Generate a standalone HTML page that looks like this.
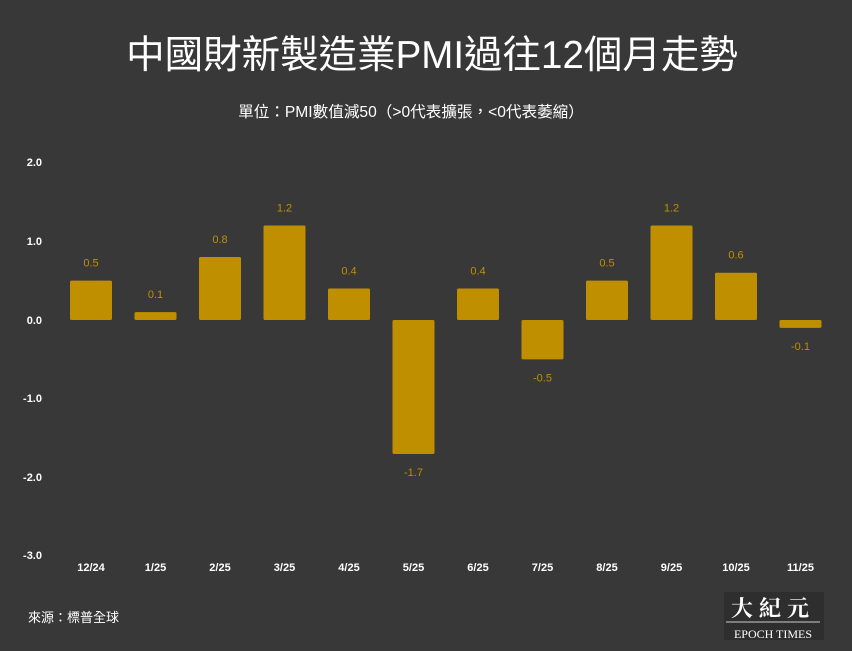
<!DOCTYPE html>
<html><head><meta charset="utf-8"><style>
body{margin:0;width:852px;height:651px;background:#383838;overflow:hidden;font-family:"Liberation Sans","Noto Sans CJK TC",sans-serif}
</style></head><body>
<svg width="852" height="651" xmlns="http://www.w3.org/2000/svg" style="position:absolute;left:0;top:0">
<rect width="852" height="651" fill="#383838"/>
<text x="432" y="68" fill="#fff" font-size="38.5" text-anchor="middle" font-family="Liberation Sans,Noto Sans CJK TC,sans-serif">中國財新製造業PMI過往12個月走勢</text>
<text x="411" y="117" fill="#fff" font-size="15.6" text-anchor="middle" font-family="Liberation Sans,Noto Sans CJK TC,sans-serif">單位：PMI數值減50（&gt;0代表擴張，&lt;0代表萎縮）</text>
<g fill="#fff" font-size="11" font-weight="bold" text-anchor="end" font-family="Liberation Sans,sans-serif">
<text x="42" y="166">2.0</text><text x="42" y="245">1.0</text><text x="42" y="324">0.0</text>
<text x="42" y="402">-1.0</text><text x="42" y="481">-2.0</text><text x="42" y="559">-3.0</text>
</g>
<g id="bars" fill="#c08f00" font-size="11" text-anchor="middle" font-family="Liberation Sans,sans-serif"></g>
<g fill="#fff" font-size="11" font-weight="bold" text-anchor="middle" font-family="Liberation Sans,sans-serif" id="xl"></g>
<text x="28" y="622" fill="#fff" font-size="13" font-family="Liberation Sans,Noto Sans CJK TC,sans-serif">來源：標普全球</text>
<rect x="724" y="592" width="100" height="48" fill="#2e2e2e"/>
<text x="773" y="616" fill="#fff" font-size="22" font-weight="bold" text-anchor="middle" letter-spacing="6" font-family="Noto Serif CJK SC,serif">大紀元</text>
<line x1="726" y1="622" x2="820" y2="622" stroke="#ccc" stroke-width="1"/>
<text x="773" y="638" fill="#fff" font-size="12" text-anchor="middle" font-family="Liberation Serif,serif">EPOCH TIMES</text>
</svg>
<script>
var v=[0.5,0.1,0.8,1.2,0.4,-1.7,0.4,-0.5,0.5,1.2,0.6,-0.1];
var l=["12/24","1/25","2/25","3/25","4/25","5/25","6/25","7/25","8/25","9/25","10/25","11/25"];
var b=document.getElementById("bars"),x=document.getElementById("xl"),s="",t="";
for(var i=0;i<12;i++){var c=91+i*64.5,h=v[i]*78.8,y=v[i]>=0?320-h:320;
s+='<rect x="'+(c-21)+'" y="'+y+'" width="42" height="'+Math.abs(h)+'" rx="1.5"/>';
var ly=v[i]>=0?320-h-14:320-h+22;
s+='<text x="'+c+'" y="'+ly+'">'+v[i]+'</text>';
t+='<text x="'+c+'" y="571">'+l[i]+'</text>';}
b.innerHTML=s;x.innerHTML=t;
</script>
</body></html>
